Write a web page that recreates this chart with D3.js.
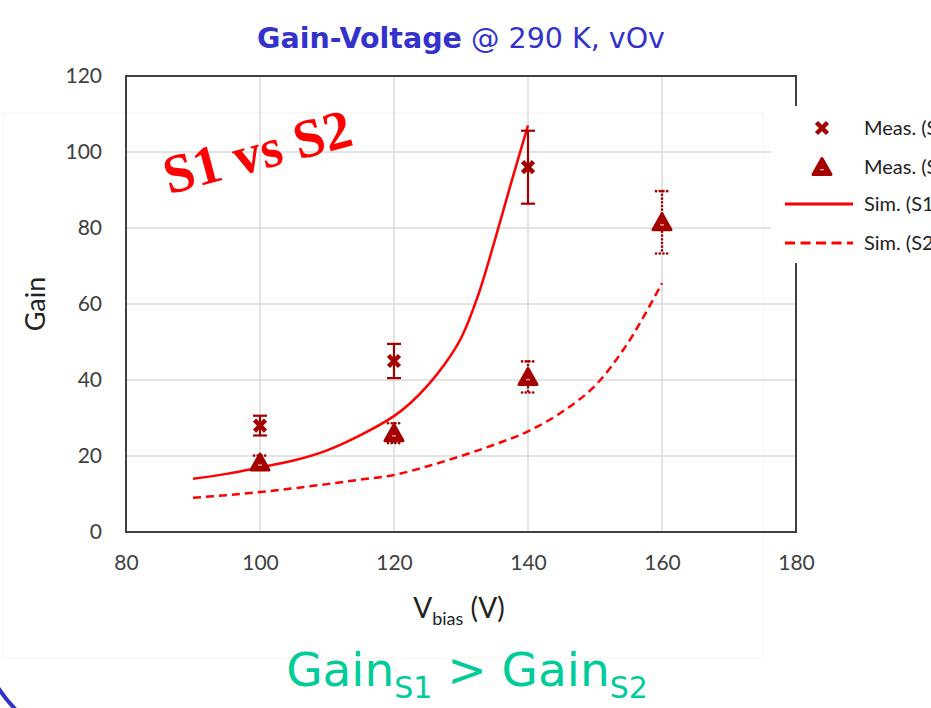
<!DOCTYPE html>
<html><head><meta charset="utf-8">
<script src="https://cdn.jsdelivr.net/npm/d3@7"></script>
<style>
body{margin:0;background:#fff;}
svg{display:block;}
</style></head>
<body>
<svg id="chart" width="931" height="708"></svg>
<script>
// ---- data ----
const xTicks = [80, 100, 120, 140, 160, 180];
const yTicks = [0, 20, 40, 60, 80, 100, 120];
const measS1V = [100, 120, 140];
const measS1 = [28, 45, 96];
const measS1Err = [2.6, 4.5, 9.6];
const measS2V = [100, 120, 140, 160];
const measS2 = [18.3, 26, 40.8, 81.5];
const measS2Err = [1.8, 2.6, 4.1, 8.2];
const simS1V = [90, 95, 100, 105, 110, 115, 120, 122.5, 125, 127.5, 130, 132.5, 135, 137.5, 140];
const simS1 = [14, 15.3, 17, 18.8, 21.5, 25.5, 30.5, 34, 38.5, 44, 51, 62, 76.5, 92, 107];
const simS2V = [90, 95, 100, 105, 110, 115, 120, 125, 130, 135, 140, 145, 150, 155, 160];
const simS2 = [9, 9.7, 10.5, 11.5, 12.6, 13.8, 15, 17.3, 20, 23, 26.5, 31.5, 38.5, 50, 65.5];
const legendLabels = ["Meas. (S1)", "Meas. (S2)", "Sim. (S1)", "Sim. (S2)"];

const svg = d3.select("#chart");
const x = d3.scaleLinear().domain([80, 180]).range([126, 796]);
const y = d3.scaleLinear().domain([0, 120]).range([532, 76]);
const dark = "#a50000", red = "#ff0000";
const labFont = "Lato, 'Open Sans', sans-serif";

// faint picture border and blue slide arc
svg.append("rect").attr("x", 3).attr("y", 113).attr("width", 760).attr("height", 545)
  .attr("fill", "none").attr("stroke", "#f3f3f3").attr("stroke-width", 1);
svg.append("path").attr("d", "M -3 686 Q 6 700 17 711")
  .attr("fill", "none").attr("stroke", "#3333cc").attr("stroke-width", 4);

// gridlines
svg.append("g").selectAll("line.h").data(yTicks.filter(d => d > 0 && d < 120)).join("line")
  .attr("x1", x(80)).attr("x2", x(180)).attr("y1", d => y(d)).attr("y2", d => y(d))
  .attr("stroke", "#dadada").attr("stroke-width", 1.5);
svg.append("g").selectAll("line.v").data(xTicks.filter(d => d > 80 && d < 180)).join("line")
  .attr("y1", y(0)).attr("y2", y(120)).attr("x1", d => x(d)).attr("x2", d => x(d))
  .attr("stroke", "#dadada").attr("stroke-width", 1.5);

// axes
const xAxis = svg.append("g").attr("transform", `translate(0,${y(0)})`)
  .call(d3.axisBottom(x).tickValues(xTicks).tickSize(0).tickPadding(23));
const yAxis = svg.append("g").attr("transform", `translate(${x(80)},0)`)
  .call(d3.axisLeft(y).tickValues(yTicks).tickSize(0).tickPadding(24));
[xAxis, yAxis].forEach(a => {
  a.select(".domain").remove();
  a.selectAll("text").attr("font-family", labFont).attr("font-size", 21).attr("fill", "#404040");
});
// frame
svg.append("rect").attr("x", x(80)).attr("y", y(120)).attr("width", x(180) - x(80)).attr("height", y(0) - y(120))
  .attr("fill", "none").attr("stroke", "#404040").attr("stroke-width", 2);

// simulation lines
const line = d3.line().x(d => x(d[0])).y(d => y(d[1])).curve(d3.curveCatmullRom.alpha(0.5));
svg.append("path").datum(simS1V.map((v, i) => [v, simS1[i]])).attr("d", line)
  .attr("fill", "none").attr("stroke", red).attr("stroke-width", 2.5);
svg.append("path").datum(simS2V.map((v, i) => [v, simS2[i]])).attr("d", line)
  .attr("fill", "none").attr("stroke", red).attr("stroke-width", 2.5).attr("stroke-dasharray", "8,5");

// error bars S1 (solid)
const e1 = svg.append("g").attr("stroke", dark).attr("stroke-width", 2.2);
measS1V.forEach((v, i) => {
  const cx = x(v), t = y(measS1[i] + measS1Err[i]), b = y(measS1[i] - measS1Err[i]);
  e1.append("line").attr("x1", cx).attr("x2", cx).attr("y1", t).attr("y2", b);
  e1.append("line").attr("x1", cx - 7).attr("x2", cx + 7).attr("y1", t).attr("y2", t);
  e1.append("line").attr("x1", cx - 7).attr("x2", cx + 7).attr("y1", b).attr("y2", b);
});
// error bars S2 (dotted)
const e2 = svg.append("g").attr("stroke", dark).attr("stroke-width", 2.6)
  .attr("stroke-dasharray", "0.1,3.6").attr("stroke-linecap", "round");
measS2V.forEach((v, i) => {
  const cx = x(v), t = y(measS2[i] + measS2Err[i]), b = y(measS2[i] - measS2Err[i]);
  e2.append("line").attr("x1", cx).attr("x2", cx).attr("y1", t).attr("y2", b);
  e2.append("line").attr("x1", cx - 6).attr("x2", cx + 6).attr("y1", t).attr("y2", t);
  e2.append("line").attr("x1", cx - 6).attr("x2", cx + 6).attr("y1", b).attr("y2", b);
});

// markers
function cross(g, cx, cy) {
  g.append("path").attr("d", `M${cx - 5.5},${cy - 5.5}L${cx + 5.5},${cy + 5.5}M${cx - 5.5},${cy + 5.5}L${cx + 5.5},${cy - 5.5}`)
    .attr("stroke", dark).attr("stroke-width", 4.5).attr("fill", "none");
}
function tri(g, cx, cy) {
  g.append("path").attr("d", `M${cx},${cy - 8.5}L${cx + 9},${cy + 7.5}L${cx - 9},${cy + 7.5}Z`)
    .attr("fill", dark).attr("stroke", dark).attr("stroke-width", 3).attr("stroke-linejoin", "round");
  g.append("rect").attr("x", cx - 2).attr("y", cy + 2).attr("width", 4).attr("height", 1.3).attr("fill", "#e8b0b0");
}
const mk = svg.append("g");
measS1V.forEach((v, i) => cross(mk, x(v), y(measS1[i])));
measS2V.forEach((v, i) => tri(mk, x(v), y(measS2[i])));

// legend (partly cut by the right edge, as in the original slide)
const lg = svg.append("g");
lg.append("rect").attr("x", 771).attr("y", 106).attr("width", 170).attr("height", 157).attr("fill", "#fff");
const ly = [128, 167, 204, 243];
cross(lg, 822, ly[0]);
tri(lg, 822, ly[1]);
lg.append("line").attr("x1", 785).attr("x2", 853).attr("y1", ly[2]).attr("y2", ly[2])
  .attr("stroke", red).attr("stroke-width", 3);
lg.append("line").attr("x1", 785).attr("x2", 853).attr("y1", ly[3]).attr("y2", ly[3])
  .attr("stroke", red).attr("stroke-width", 3).attr("stroke-dasharray", "10,5.5");
lg.selectAll("text").data(legendLabels).join("text")
  .attr("x", 864).attr("y", (d, i) => ly[i] + 7).text(d => d)
  .attr("font-family", labFont).attr("font-size", 20).attr("fill", "#222");

// axis titles
svg.append("text").attr("transform", "translate(45,304) rotate(-90)").attr("text-anchor", "middle")
  .attr("font-family", labFont).attr("font-size", 27).attr("fill", "#222").text("Gain");
const xl = svg.append("text").attr("x", 459).attr("y", 618).attr("text-anchor", "middle")
  .attr("font-family", labFont).attr("font-size", 28).attr("fill", "#222");
xl.append("tspan").text("V");
xl.append("tspan").attr("font-size", 18).attr("dy", 7).text("bias");
xl.append("tspan").attr("dy", -7).text(" (V)");

// chart title
const tt = svg.append("text").attr("x", 461).attr("y", 48).attr("text-anchor", "middle")
  .attr("font-family", "'DejaVu Sans', Verdana, sans-serif").attr("font-size", 28.5).attr("fill", "#3333cc");
tt.append("tspan").attr("font-weight", "bold").text("Gain-Voltage");
tt.append("tspan").text(" @ 290 K, vOv");

// annotation
svg.append("text").attr("transform", "translate(257,151) rotate(-15)").attr("text-anchor", "middle")
  .attr("dy", "0.35em")
  .attr("font-family", "'Liberation Serif', 'Times New Roman', serif").attr("font-weight", "bold")
  .attr("font-size", 55).attr("fill", "#ff0000").text("S1 vs S2");

// bottom statement
const bt = svg.append("text").attr("x", 467).attr("y", 686).attr("text-anchor", "middle")
  .attr("font-family", "'DejaVu Sans', Verdana, sans-serif").attr("font-size", 47).attr("fill", "#00cc99");
bt.append("tspan").text("Gain");
bt.append("tspan").attr("font-size", 30).attr("dy", 12).text("S1");
bt.append("tspan").attr("dy", -12).text(" > Gain");
bt.append("tspan").attr("font-size", 30).attr("dy", 12).text("S2");
</script>
</body></html>
